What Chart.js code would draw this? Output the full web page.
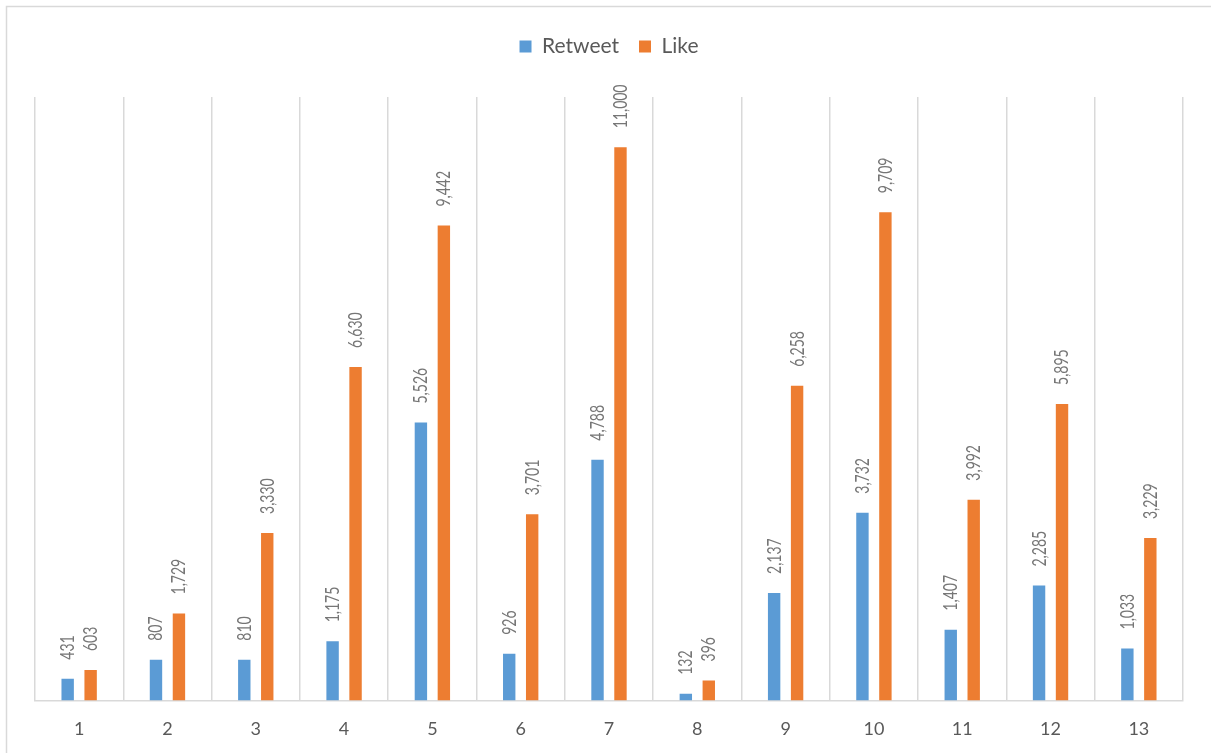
<!DOCTYPE html>
<html>
<head>
<meta charset="utf-8">
<title>Retweet / Like</title>
<script src="https://cdn.jsdelivr.net/npm/chart.js@4/dist/chart.umd.min.js"></script>
<style>
    html, body { margin: 0; padding: 0; background: #ffffff; }
    #wrap { width: 1211px; height: 753px; position: relative; }
</style>
</head>
<body>
<div id="wrap"><canvas id="tweetChart" width="1211" height="753"></canvas></div>
<script>
// Dati
const categories = ['1', '2', '3', '4', '5', '6', '7', '8', '9', '10', '11', '12', '13'];
const retweetValues = [431, 807, 810, 1175, 5526, 926, 4788, 132, 2137, 3732, 1407, 2285, 1033];
const likeValues = [603, 1729, 3330, 6630, 9442, 3701, 11000, 396, 6258, 9709, 3992, 5895, 3229];
const yMax = 12000;

const FONT = 'Lato, "Open Sans", sans-serif';

// Cornice esterna del grafico
const framePlugin = {
    id: 'frame',
    beforeInit: function(chart) {
        // spazio extra tra legenda e area del grafico
        const fit = chart.legend.fit;
        chart.legend.fit = function() {
            fit.call(this);
            this.height += 30;
        };
    },
    beforeDraw: function(chart) {
        const ctx = chart.ctx;
        ctx.save();
        ctx.fillStyle = '#ffffff';
        ctx.fillRect(0, 0, chart.width, chart.height);
        ctx.strokeStyle = '#d9d9d9';
        ctx.lineWidth = 1.5;
        ctx.strokeRect(6.5, 6.5, chart.width + 20, chart.height + 20);
        ctx.restore();
    }
};

// Etichette ruotate sopra le barre
const valueLabelPlugin = {
    id: 'valueLabels',
    afterDatasetsDraw: function(chart) {
        const ctx = chart.ctx;
        ctx.save();
        ctx.fillStyle = '#767676';
        ctx.font = '20px ' + FONT;
        ctx.textAlign = 'left';
        ctx.textBaseline = 'middle';
        chart.data.datasets.forEach((ds, i) => {
            const meta = chart.getDatasetMeta(i);
            meta.data.forEach((bar, j) => {
                const text = ds.data[j].toLocaleString('en-US');
                ctx.save();
                ctx.translate(bar.x, bar.y - 19);
                ctx.rotate(-Math.PI / 2);
                ctx.scale(0.7, 1);
                ctx.fillText(text, 0, 0);
                ctx.restore();
            });
        });
        ctx.restore();
    }
};

const ctx = document.getElementById('tweetChart');
new Chart(ctx, {
    type: 'bar',
    data: {
        labels: categories,
        datasets: [{
            label: 'Retweet',
            data: retweetValues,
            backgroundColor: '#5b9bd5',
            categoryPercentage: 0.52,
            barPercentage: 0.54
        }, {
            label: 'Like',
            data: likeValues,
            backgroundColor: '#ed7d31',
            categoryPercentage: 0.52,
            barPercentage: 0.54
        }]
    },
    options: {
        responsive: false,
        animation: false,
        devicePixelRatio: 1,
        layout: {
            padding: { left: 35, right: 28, top: 16, bottom: -5 }
        },
        plugins: {
            legend: {
                position: 'top',
                labels: {
                    boxWidth: 12,
                    boxHeight: 12,
                    padding: 20,
                    color: '#595959',
                    font: { family: FONT, size: 21 }
                }
            },
            tooltip: { enabled: false }
        },
        scales: {
            x: {
                grid: {
                    color: '#d9d9d9',
                    lineWidth: 1.5,
                    drawTicks: false,
                    offset: true
                },
                border: { color: '#d9d9d9', width: 1.5 },
                ticks: {
                    color: '#595959',
                    padding: 18,
                    font: { family: FONT, size: 18 }
                }
            },
            y: {
                display: false,
                min: 0,
                max: yMax
            }
        }
    },
    plugins: [framePlugin, valueLabelPlugin]
});
</script>
</body>
</html>
